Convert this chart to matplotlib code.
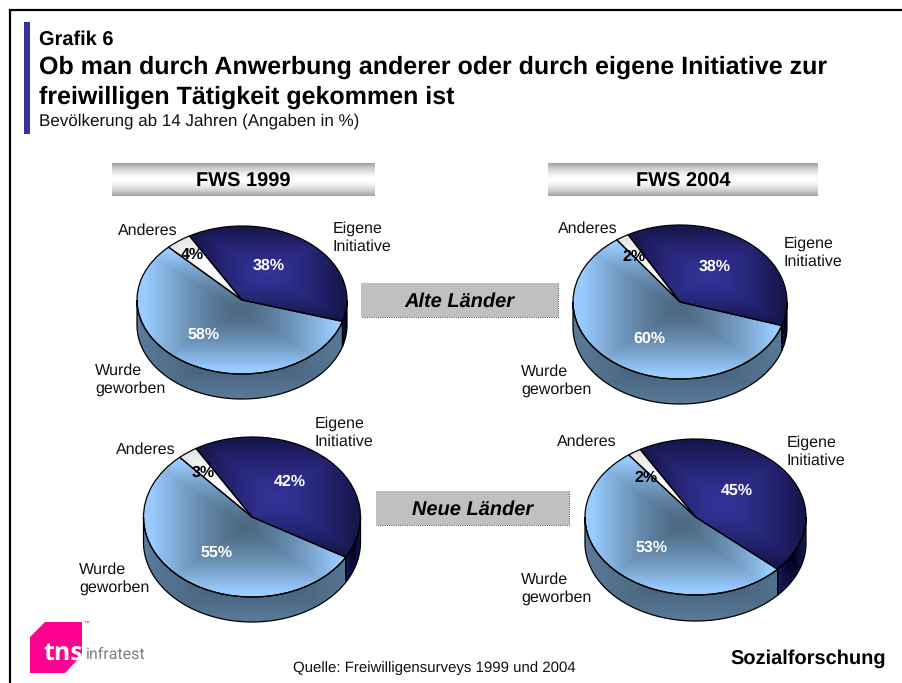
import numpy as np
import matplotlib
matplotlib.use("Agg")
import matplotlib.pyplot as plt
from matplotlib.colors import to_rgb
from matplotlib.patches import Polygon, Rectangle

plt.rcParams['font.family'] = ['Liberation Sans', 'DejaVu Sans']
plt.rcParams['text.hinting'] = 'no_hinting'
plt.rcParams['text.hinting_factor'] = 1

# ---------- data ----------
categories = ["Eigene\nInitiative", "Wurde\ngeworben", "Anderes"]
alte_1999 = [38, 58, 4]
alte_2004 = [38, 60, 2]
neue_1999 = [42, 55, 3]
neue_2004 = [45, 53, 2]
period_labels = ["FWS 1999", "FWS 2004"]
region_labels = ["Alte Länder", "Neue Länder"]
title_small = "Grafik 6"
title_lines = ["Ob man durch Anwerbung anderer oder durch eigene Initiative zur",
               "freiwilligen Tätigkeit gekommen ist"]
subtitle = "Bevölkerung ab 14 Jahren (Angaben in %)"
source = "Quelle: Freiwilligensurveys 1999 und 2004"
footer_right = "Sozialforschung"

W, H = 902, 683
fig = plt.figure(figsize=(W / 100, H / 100), dpi=100, facecolor='white')

TOP_RAMP = [("#333399", "#17174F"), ("#4C6882", "#99CCFF"), ("#FFFFFF", "#E4E4E4")]
WALL_RAMP = [("#000018", "#1B1B60"), ("#3F556B", "#5A7B9B"), ("#808080", "#999999")]


def rect_gradient(ax, clip, bbox, colors, full=0.85, power=1.0, res=500):
    """Rectangular path gradient clipped to a patch."""
    xa, xb, ya, yb = bbox
    cx, cy = (xa + xb) / 2, (ya + yb) / 2
    xs = np.linspace(xa, xb, res)
    ys = np.linspace(ya, yb, res)
    X, Y = np.meshgrid(xs, ys)
    t = np.maximum(np.abs(X - cx) / ((xb - xa) / 2), np.abs(Y - cy) / ((yb - ya) / 2))
    t = (np.clip(t / full, 0, 1) ** power)[..., None]
    c0 = np.array(to_rgb(colors[0]))
    c1 = np.array(to_rgb(colors[1]))
    im = ax.imshow(c0 * (1 - t) + c1 * t, extent=(xa, xb, ya, yb), origin='lower',
                   aspect='auto', interpolation='bilinear', zorder=2)
    im.set_clip_path(clip)


def draw_pie(values, cx, cy, rx, ry, depth, start=120):
    m = 4
    x0, x1 = cx - rx - m, cx + rx + m
    y0, y1 = cy - ry - m, cy + ry + depth + m
    ax = fig.add_axes([x0 / W, 1 - y1 / H, (x1 - x0) / W, (y1 - y0) / H])
    wedges, _ = ax.pie(values, colors=[c[1] for c in TOP_RAMP], startangle=start,
                       counterclock=False, radius=1, center=(0, 0),
                       wedgeprops=dict(linewidth=0.9, edgecolor='black'))
    d = depth / ry
    for i, w in enumerate(wedges):
        th1, th2 = w.theta1, w.theta2
        angs = np.radians(np.append(np.linspace(th1, th2, 200), [th1]))
        bx = np.append(np.cos(angs), 0)
        by = np.append(np.sin(angs), 0)
        w.set_zorder(6)
        rect_gradient(ax, w, (bx.min(), bx.max(), by.min(), by.max()), TOP_RAMP[i],
                      full=0.92, power=1.35)
        w.set_facecolor('none')
        # side wall: the part of the slice's arc that faces the viewer
        for lo, hi in [(-540, -360), (-180, 0), (180, 360)]:
            a, b = max(lo, th1), min(hi, th2)
            if b <= a:
                continue
            arc = np.radians(np.linspace(a, b, 200))
            px = np.cos(arc)
            py = np.sin(arc)
            verts = np.vstack([np.c_[px, py], np.c_[px[::-1], py[::-1] - d]])
            poly = Polygon(verts, closed=True, facecolor='none', edgecolor='black',
                           linewidth=0.9, zorder=4)
            ax.add_patch(poly)
            rect_gradient(ax, poly, (-1.0, 1.0, -1 - d, 0.0) if i == 1 else
                          (px.min(), px.max() + 1e-3, py.min() - d, py.max()),
                          WALL_RAMP[i], full=1.0)
    ax.set_aspect('auto')
    ax.set_xlim((x0 - cx) / rx, (x1 - cx) / rx)
    ax.set_ylim((cy - y1) / ry, (cy - y0) / ry)
    ax.axis('off')


draw_pie(alte_1999, 242, 300, 105, 74, 25)
draw_pie(alte_2004, 680, 302, 107, 77, 25, start=119)
draw_pie(neue_1999, 252, 517, 108.5, 80, 25, start=121)
draw_pie(neue_2004, 695.5, 517, 110.5, 78, 26)

# ---------- overlay in pixel coordinates ----------
ov = fig.add_axes([0, 0, 1, 1], zorder=10)
ov.patch.set_alpha(0)
ov.axis('off')

# frame and accent bar
ov.plot([10, 10], [9, 683], color='black', lw=1.6, solid_capstyle='butt')
ov.plot([9.2, 902], [9.5, 9.5], color='black', lw=1.6, solid_capstyle='butt')
ov.add_patch(Rectangle((24, 22), 6, 112, facecolor='#333399', edgecolor='none'))

ov.text(39, 40, title_small, fontsize=14.4, fontweight='bold', ha='left', va='center')
ov.text(39, 67, title_lines[0], fontsize=18.2, fontweight='bold', ha='left', va='center')
ov.text(39, 97, title_lines[1], fontsize=18.2, fontweight='bold', ha='left', va='center')
ov.text(39, 121, subtitle, fontsize=12.3, ha='left', va='center', color='#111111')

# period headers
grad = np.abs(np.linspace(-1, 1, 60))[:, None]
for lab, (xa, xb) in zip(period_labels, [(112, 375), (548, 818)]):
    shade = 1 - 0.36 * grad ** 1.6
    ov.imshow(shade, extent=(xa, xb, 196, 163), cmap='gray', vmin=0, vmax=1,
              aspect='auto', interpolation='bilinear', zorder=1)
    ov.text((xa + xb) / 2, 181.5, lab, fontsize=14.3, fontweight='bold', ha='center', va='center')

# region boxes
for lab, (xa, xb, ya, yb) in zip(region_labels, [(361, 558, 283, 317), (376, 569, 491, 525)]):
    ov.add_patch(Rectangle((xa, ya), xb - xa, yb - ya, facecolor='#C0C0C0', edgecolor='none'))
    ov.plot([xb, xb, xa], [ya, yb, yb], color='#555555', lw=0.8, ls=(0, (1, 1)))
    ov.text((xa + xb) / 2, (ya + yb) / 2 + 1.5, lab, fontsize=14.2, fontweight='bold',
            style='italic', ha='center', va='center')

# slice category labels (Eigene, Wurde, Anderes)
cat_pos = [
    [(333, 237), (95, 379), (118, 230)],
    [(784, 252), (521, 380), (558, 228)],
    [(315, 432), (79, 578), (116, 449)],
    [(787, 451), (521, 588), (557, 441)],
]
for row in cat_pos:
    for lab, (x, y) in zip(categories, row):
        ov.text(x, y + 1, lab, fontsize=11.8, ha='left', va='center', linespacing=1.27, color='#111111')

# percentage labels
pct_pos = [
    [(269, 265), (204, 334), (192, 254)],
    [(715, 266), (649, 338), (634, 256)],
    [(290, 481), (217, 552), (203, 472)],
    [(737, 490), (652, 547), (646, 477)],
]
for vals, row in zip([alte_1999, alte_2004, neue_1999, neue_2004], pct_pos):
    for i, (v, (x, y)) in enumerate(zip(vals, row)):
        ov.text(x, y + 1, f"{v}%", fontsize=11.8, fontweight='bold', ha='center', va='center',
                color='black' if i == 2 else 'white')

# logo
ov.add_patch(Polygon([(45, 622), (82, 622), (82, 655), (65, 673), (30, 673), (30, 637)],
                     closed=True, facecolor='#FF0090', edgecolor='none'))
ov.text(43, 653, "tns", fontsize=18, fontweight='bold', color='white', ha='left', va='center',
        family=['Open Sans', 'DejaVu Sans'])
ov.text(86, 654, "infratest", fontsize=11.8, color='#808080', ha='left', va='center',
        family=['Roboto', 'Liberation Sans'])
ov.text(83, 623, "™", fontsize=4, color='#FF0090', ha='left', va='center')

ov.text(293, 668, source, fontsize=11.1, ha='left', va='center', color='#111111')
ov.text(886, 659, footer_right, fontsize=14.3, fontweight='bold', ha='right', va='center')

ov.set_xlim(0, W)
ov.set_ylim(H, 0)

fig.savefig("out.png", dpi=100, facecolor='white')
